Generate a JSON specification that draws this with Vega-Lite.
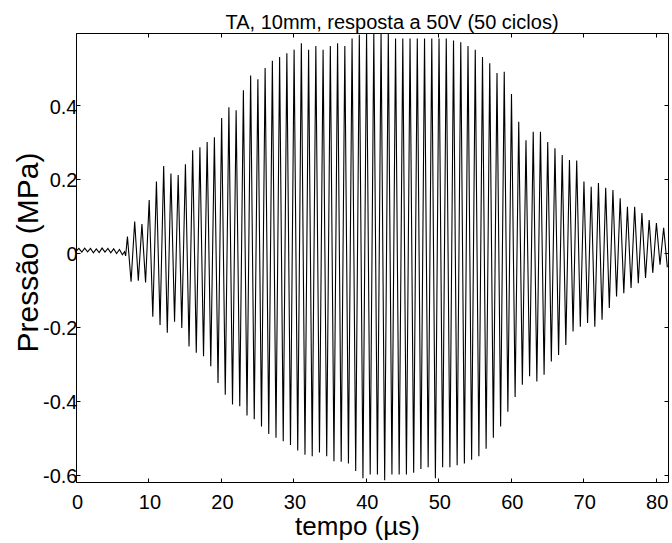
{
  "$schema": "https://vega.github.io/schema/vega-lite/v6.json",
  "autosize": "none",
  "width": 592,
  "height": 449,
  "padding": {"left": 76, "top": 33, "right": 4, "bottom": 61},
  "background": "white",
  "config": {
    "font": "Liberation Sans",
    "view": {"stroke": "black", "strokeWidth": 1},
    "axis": {"grid": false, "domain": false, "labelColor": "black", "titleColor": "black", "tickColor": "black", "titleFontWeight": "normal", "labelFlush": false, "labelOverlap": false}
  },
  "title": {"text": "TA, 10mm, resposta a 50V (50 ciclos)", "fontSize": 20, "fontWeight": "normal", "color": "black", "anchor": "middle", "dx": 20, "baseline": "alphabetic", "offset": -16},
  "data": {"values": [
    {"t": 0.0, "p": 0.004}, {"t": 0.4, "p": 0.012}, {"t": 0.8, "p": 0.002}, {"t": 1.2, "p": 0.013}, {"t": 1.6, "p": 0.003},
    {"t": 2.0, "p": 0.012}, {"t": 2.4, "p": 0.0}, {"t": 2.8, "p": 0.011}, {"t": 3.2, "p": 0.001}, {"t": 3.6, "p": 0.013},
    {"t": 4.0, "p": 0.002}, {"t": 4.4, "p": 0.012}, {"t": 4.8, "p": 0.0}, {"t": 5.2, "p": 0.011}, {"t": 5.6, "p": -0.002},
    {"t": 6.0, "p": 0.009}, {"t": 6.4, "p": -0.005}, {"t": 6.7, "p": 0.003}, {"t": 6.85, "p": -0.008},
    {"t": 7.1, "p": 0.044}, {"t": 7.6, "p": -0.078},
    {"t": 8.1, "p": 0.085}, {"t": 8.6, "p": -0.075},
    {"t": 9.1, "p": 0.078}, {"t": 9.6, "p": -0.08},
    {"t": 10.1, "p": 0.143}, {"t": 10.6, "p": -0.173},
    {"t": 11.1, "p": 0.193}, {"t": 11.6, "p": -0.195},
    {"t": 12.1, "p": 0.235}, {"t": 12.6, "p": -0.216},
    {"t": 13.1, "p": 0.215}, {"t": 13.6, "p": -0.186},
    {"t": 14.1, "p": 0.211}, {"t": 14.6, "p": -0.203},
    {"t": 15.1, "p": 0.24}, {"t": 15.6, "p": -0.253},
    {"t": 16.1, "p": 0.278}, {"t": 16.6, "p": -0.27},
    {"t": 17.1, "p": 0.286}, {"t": 17.6, "p": -0.28},
    {"t": 18.1, "p": 0.3}, {"t": 18.6, "p": -0.307},
    {"t": 19.1, "p": 0.313}, {"t": 19.6, "p": -0.352},
    {"t": 20.1, "p": 0.365}, {"t": 20.6, "p": -0.384},
    {"t": 21.1, "p": 0.394}, {"t": 21.6, "p": -0.41},
    {"t": 22.1, "p": 0.386}, {"t": 22.6, "p": -0.415},
    {"t": 23.1, "p": 0.44}, {"t": 23.6, "p": -0.44},
    {"t": 24.1, "p": 0.48}, {"t": 24.6, "p": -0.45},
    {"t": 25.1, "p": 0.47}, {"t": 25.6, "p": -0.47},
    {"t": 26.1, "p": 0.5}, {"t": 26.6, "p": -0.49},
    {"t": 27.1, "p": 0.52}, {"t": 27.6, "p": -0.5},
    {"t": 28.1, "p": 0.53}, {"t": 28.6, "p": -0.51},
    {"t": 29.1, "p": 0.54}, {"t": 29.6, "p": -0.52},
    {"t": 30.1, "p": 0.55}, {"t": 30.6, "p": -0.535},
    {"t": 31.1, "p": 0.567}, {"t": 31.6, "p": -0.546},
    {"t": 32.1, "p": 0.55}, {"t": 32.6, "p": -0.55},
    {"t": 33.1, "p": 0.56}, {"t": 33.6, "p": -0.54},
    {"t": 34.1, "p": 0.55}, {"t": 34.6, "p": -0.55},
    {"t": 35.1, "p": 0.56}, {"t": 35.6, "p": -0.564},
    {"t": 36.1, "p": 0.567}, {"t": 36.6, "p": -0.565},
    {"t": 37.1, "p": 0.56}, {"t": 37.6, "p": -0.57},
    {"t": 38.1, "p": 0.58}, {"t": 38.6, "p": -0.59},
    {"t": 39.1, "p": 0.59}, {"t": 39.6, "p": -0.61},
    {"t": 40.1, "p": 0.595}, {"t": 40.6, "p": -0.6},
    {"t": 41.1, "p": 0.595}, {"t": 41.6, "p": -0.6},
    {"t": 42.1, "p": 0.595}, {"t": 42.6, "p": -0.615},
    {"t": 43.1, "p": 0.594}, {"t": 43.6, "p": -0.6},
    {"t": 44.1, "p": 0.58}, {"t": 44.6, "p": -0.6},
    {"t": 45.1, "p": 0.58}, {"t": 45.6, "p": -0.6},
    {"t": 46.1, "p": 0.58}, {"t": 46.6, "p": -0.595},
    {"t": 47.1, "p": 0.58}, {"t": 47.6, "p": -0.585},
    {"t": 48.1, "p": 0.58}, {"t": 48.6, "p": -0.58},
    {"t": 49.1, "p": 0.58}, {"t": 49.6, "p": -0.61},
    {"t": 50.1, "p": 0.58}, {"t": 50.6, "p": -0.58},
    {"t": 51.1, "p": 0.58}, {"t": 51.6, "p": -0.58},
    {"t": 52.1, "p": 0.575}, {"t": 52.6, "p": -0.575},
    {"t": 53.1, "p": 0.57}, {"t": 53.6, "p": -0.57},
    {"t": 54.1, "p": 0.56}, {"t": 54.6, "p": -0.56},
    {"t": 55.1, "p": 0.55}, {"t": 55.6, "p": -0.55},
    {"t": 56.1, "p": 0.53}, {"t": 56.6, "p": -0.53},
    {"t": 57.1, "p": 0.513}, {"t": 57.6, "p": -0.5},
    {"t": 58.1, "p": 0.487}, {"t": 58.6, "p": -0.47},
    {"t": 59.1, "p": 0.49}, {"t": 59.6, "p": -0.43},
    {"t": 60.1, "p": 0.43}, {"t": 60.6, "p": -0.39},
    {"t": 61.1, "p": 0.355}, {"t": 61.6, "p": -0.357},
    {"t": 62.1, "p": 0.305}, {"t": 62.6, "p": -0.334},
    {"t": 63.1, "p": 0.328}, {"t": 63.6, "p": -0.348},
    {"t": 64.1, "p": 0.328}, {"t": 64.6, "p": -0.33},
    {"t": 65.1, "p": 0.3}, {"t": 65.6, "p": -0.294},
    {"t": 66.1, "p": 0.283}, {"t": 66.6, "p": -0.276},
    {"t": 67.1, "p": 0.265}, {"t": 67.6, "p": -0.249},
    {"t": 68.1, "p": 0.251}, {"t": 68.6, "p": -0.213},
    {"t": 69.1, "p": 0.25}, {"t": 69.6, "p": -0.2},
    {"t": 70.1, "p": 0.193}, {"t": 70.6, "p": -0.19},
    {"t": 71.1, "p": 0.179}, {"t": 71.6, "p": -0.2},
    {"t": 72.1, "p": 0.189}, {"t": 72.6, "p": -0.181},
    {"t": 73.1, "p": 0.176}, {"t": 73.6, "p": -0.149},
    {"t": 74.1, "p": 0.17}, {"t": 74.6, "p": -0.118},
    {"t": 75.1, "p": 0.148}, {"t": 75.6, "p": -0.109},
    {"t": 76.1, "p": 0.125}, {"t": 76.6, "p": -0.095},
    {"t": 77.1, "p": 0.125}, {"t": 77.6, "p": -0.082},
    {"t": 78.1, "p": 0.108}, {"t": 78.6, "p": -0.068},
    {"t": 79.1, "p": 0.089}, {"t": 79.6, "p": -0.054},
    {"t": 80.1, "p": 0.081}, {"t": 80.6, "p": -0.032},
    {"t": 81.1, "p": 0.068}, {"t": 81.6, "p": -0.037},
    {"t": 81.7, "p": -0.035}
  ]},
  "layer": [
    {
      "mark": {"type": "line", "color": "black", "strokeWidth": 1.1, "clip": true},
      "encoding": {
        "x": {"field": "t", "type": "quantitative", "scale": {"domain": [0, 81.7], "nice": false, "zero": false},
          "axis": {"orient": "bottom", "values": [0, 10, 20, 30, 40, 50, 60, 70, 80], "tickSize": -4, "labelPadding": 14, "labelFontSize": 20, "labelOffset": 1, "title": "tempo (µs)", "titleFontSize": 26, "titleX": 281, "titleY": 52, "titleBaseline": "alphabetic"}},
        "y": {"field": "p", "type": "quantitative", "scale": {"domain": [-0.62, 0.595], "nice": false, "zero": false},
          "axis": {"orient": "left", "values": [-0.6, -0.4, -0.2, 0, 0.2, 0.4], "tickSize": -4, "labelPadding": 3, "labelOffset": 2, "labelFontSize": 20, "labelExpr": "replace(format(datum.value, '.1~f'), '−', '-')", "title": "Pressão (MPa)", "titleFontSize": 30, "titleX": -39, "titleY": 219, "titleBaseline": "alphabetic"}},
        "order": {"field": "t", "type": "quantitative"}
      }
    },
    {
      "mark": {"type": "line", "opacity": 0},
      "encoding": {
        "x": {"field": "t", "type": "quantitative", "axis": {"orient": "top", "values": [0, 10, 20, 30, 40, 50, 60, 70, 80], "tickSize": -4, "labels": false, "title": null}},
        "y": {"field": "p", "type": "quantitative", "axis": {"orient": "right", "values": [-0.6, -0.4, -0.2, 0, 0.2, 0.4], "tickSize": -4, "labels": false, "title": null}}
      }
    }
  ],
  "resolve": {"axis": {"x": "independent", "y": "independent"}}
}
